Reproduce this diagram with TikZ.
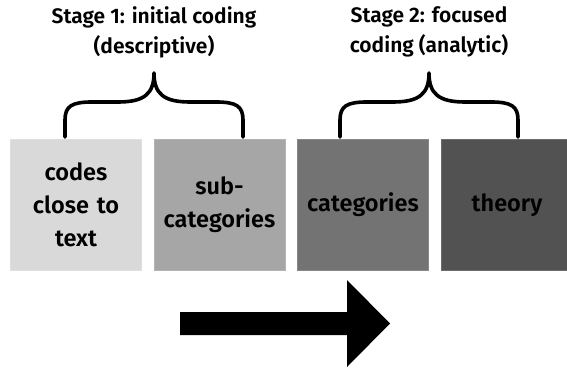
\documentclass[tikz,border=0pt]{standalone}
\usepackage{fontspec}
\setmainfont{Fira Sans}[UprightFont=* SemiBold]
\begin{document}
\begin{tikzpicture}[x=1pt,y=-1pt,
  stagebox/.style={draw=#1!85!white, line width=1pt, fill=#1, minimum width=131pt, minimum height=131pt, inner sep=0pt, text width=129pt, align=center, font=\fontsize{23.5}{33}\selectfont, anchor=north west},
  bracepath/.style={line width=3.6pt, line cap=round, line join=round},
  stagelabel/.style={align=center, font=\fontsize{21}{30}\selectfont, anchor=north}]
\useasboundingbox (0,0) rectangle (567,367);
\definecolor{cA}{HTML}{D9D9D9}
\definecolor{cB}{HTML}{A6A6A6}
\definecolor{cC}{HTML}{737373}
\definecolor{cD}{HTML}{525252}
\node[stagebox=cA] (b1) at (10,139) {codes\\close to\\text};
\node[stagebox=cB] (b2) at (153.5,139) {sub-\\categories};
\node[stagebox=cC] (b3) at (297,139) {categories};
\node[stagebox=cD] (b4) at (441,139) {theory};
\node[stagelabel] (s1) at (154,3) {Stage 1: initial coding\\(descriptive)};
\node[stagelabel] (s2) at (429,3) {Stage 2: focused\\coding (analytic)};
% braces
\draw[bracepath] (65,137) -- (65,120) .. controls (65,106) and (72,102) .. (92,102)
  -- (118,102) .. controls (144,102) and (154,94) .. (154,73)
  .. controls (154,94) and (164,102) .. (190,102) -- (216,102)
  .. controls (236,102) and (243,106) .. (243,120) -- (243,137);
\draw[bracepath] (340,137) -- (340,120) .. controls (340,106) and (347,102) .. (367,102)
  -- (393,102) .. controls (419,102) and (429,94) .. (429,73)
  .. controls (429,94) and (439,102) .. (465,102) -- (491,102)
  .. controls (511,102) and (518,106) .. (518,120) -- (518,137);
% arrow
\fill (180,312) -- (347,312) -- (347,280) -- (390,323.5) -- (347,367) -- (347,335) -- (180,335) -- cycle;
\end{tikzpicture}
\end{document}
